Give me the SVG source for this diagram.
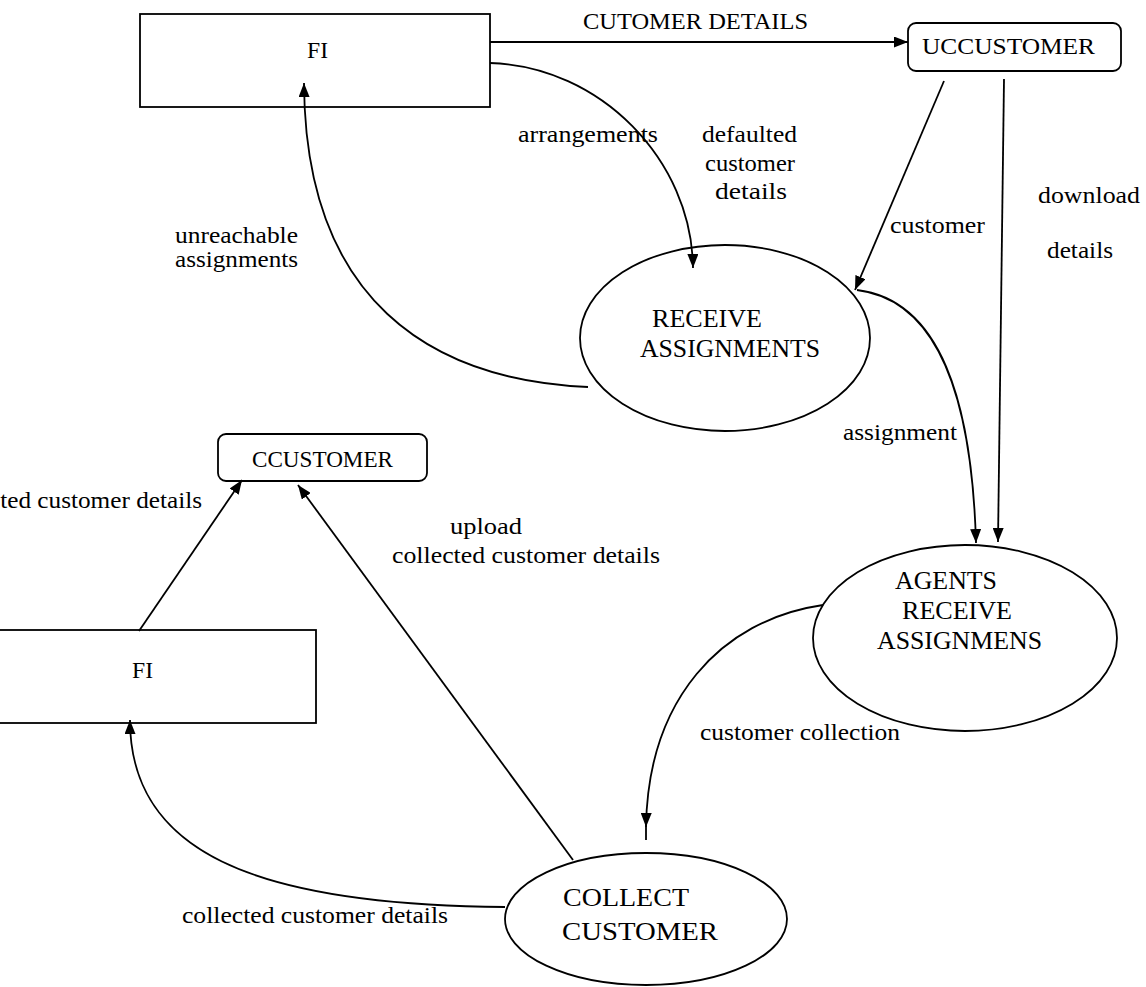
<svg xmlns="http://www.w3.org/2000/svg" width="1146" height="987" viewBox="0 0 1146 987">
  <style>
    .shape { fill: none; stroke: #000; stroke-width: 1.8; }
    .flow { fill: none; stroke: #000; stroke-width: 1.8; }
    .lbl { font-family: "Liberation Serif", "Times New Roman", serif; font-size: 24px; fill: #000; }
    .big { font-size: 26px; }
  </style>
  <defs>
    <marker id="arrow" viewBox="0 0 14 11" refX="14" refY="5.5" markerWidth="14" markerHeight="11" markerUnits="userSpaceOnUse" orient="auto">
      <path d="M0,0 L14,5.5 L0,11 z" fill="#000"/>
    </marker>
  </defs>
  <rect width="1146" height="987" fill="#fff"/>

  <!-- external entities -->
  <g id="fi-top">
    <rect class="shape" x="140" y="14" width="350" height="93"/>
    <text class="lbl" x="307" y="58" textLength="21" lengthAdjust="spacingAndGlyphs">FI</text>
  </g>
  <g id="uccustomer">
    <rect class="shape" x="908" y="23" width="213" height="48" rx="8"/>
    <text class="lbl" x="922" y="54" textLength="173" lengthAdjust="spacingAndGlyphs">UCCUSTOMER</text>
  </g>
  <g id="ccustomer">
    <rect class="shape" x="218" y="434" width="209" height="47" rx="8"/>
    <text class="lbl" x="252" y="467" textLength="141" lengthAdjust="spacingAndGlyphs">CCUSTOMER</text>
  </g>
  <g id="fi-bottom">
    <rect class="shape" x="-5" y="630" width="321" height="93"/>
    <text class="lbl" x="132" y="678" textLength="21" lengthAdjust="spacingAndGlyphs">FI</text>
  </g>

  <!-- processes -->
  <g id="receive-assignments">
    <ellipse class="shape" cx="725" cy="338" rx="145" ry="93"/>
    <text class="lbl big" x="652" y="327" textLength="110" lengthAdjust="spacingAndGlyphs">RECEIVE</text>
    <text class="lbl big" x="640" y="357" textLength="180" lengthAdjust="spacingAndGlyphs">ASSIGNMENTS</text>
  </g>
  <g id="agents-receive">
    <ellipse class="shape" cx="965" cy="638" rx="152" ry="93"/>
    <text class="lbl big" x="895" y="589" textLength="102" lengthAdjust="spacingAndGlyphs">AGENTS</text>
    <text class="lbl big" x="902" y="619" textLength="110" lengthAdjust="spacingAndGlyphs">RECEIVE</text>
    <text class="lbl big" x="877" y="649" textLength="165" lengthAdjust="spacingAndGlyphs">ASSIGNMENS</text>
  </g>
  <g id="collect-customer">
    <ellipse class="shape" cx="646" cy="919" rx="141" ry="66"/>
    <text class="lbl big" x="563" y="906" textLength="126" lengthAdjust="spacingAndGlyphs">COLLECT</text>
    <text class="lbl big" x="562" y="940" textLength="156" lengthAdjust="spacingAndGlyphs">CUSTOMER</text>
  </g>

  <!-- data flows -->
  <g id="connectors">
    <line class="flow" x1="490" y1="42" x2="908" y2="42" marker-end="url(#arrow)"/>
    <path class="flow" d="M490,63 C600,66 692,160 693,268" marker-end="url(#arrow)"/>
    <path class="flow" d="M588,387 C430,380 305,300 304,83" marker-end="url(#arrow)"/>
    <line class="flow" x1="944" y1="81" x2="855" y2="290" marker-end="url(#arrow)"/>
    <line class="flow" x1="1004" y1="79" x2="998" y2="542" marker-end="url(#arrow)"/>
    <path class="flow" d="M857,290 C940,300 972,400 976,543" marker-end="url(#arrow)"/>
    <path class="flow" d="M823,605 C720,620 648,700 646,827" marker-end="url(#arrow)"/>
    <line class="flow" x1="646" y1="815" x2="646" y2="840"/>
    <line class="flow" x1="139" y1="631" x2="242" y2="480" marker-end="url(#arrow)"/>
    <line class="flow" x1="573" y1="860" x2="298" y2="485" marker-end="url(#arrow)"/>
    <path class="flow" d="M505,907 C250,905 130,850 130,720" marker-end="url(#arrow)"/>
  </g>

  <!-- flow labels -->
  <g id="labels">
    <text class="lbl" x="583" y="29" textLength="225" lengthAdjust="spacingAndGlyphs">CUTOMER DETAILS</text>
    <text class="lbl" x="518" y="142" textLength="140" lengthAdjust="spacingAndGlyphs">arrangements</text>
    <text class="lbl" x="702" y="142" textLength="95" lengthAdjust="spacingAndGlyphs">defaulted</text>
    <text class="lbl" x="705" y="171" textLength="90" lengthAdjust="spacingAndGlyphs">customer</text>
    <text class="lbl" x="715" y="199" textLength="72" lengthAdjust="spacingAndGlyphs">details</text>
    <text class="lbl" x="175" y="243" textLength="123" lengthAdjust="spacingAndGlyphs">unreachable</text>
    <text class="lbl" x="175" y="267" textLength="123" lengthAdjust="spacingAndGlyphs">assignments</text>
    <text class="lbl" x="890" y="233" textLength="95" lengthAdjust="spacingAndGlyphs">customer</text>
    <text class="lbl" x="1038" y="203" textLength="102" lengthAdjust="spacingAndGlyphs">download</text>
    <text class="lbl" x="1047" y="258" textLength="66" lengthAdjust="spacingAndGlyphs">details</text>
    <text class="lbl" x="843" y="440" textLength="114" lengthAdjust="spacingAndGlyphs">assignment</text>
    <!-- this label runs past the left edge of the sheet -->
    <text class="lbl" x="-60" y="508" textLength="262" lengthAdjust="spacingAndGlyphs">collected customer details</text>
    <text class="lbl" x="450" y="534" textLength="72" lengthAdjust="spacingAndGlyphs">upload</text>
    <text class="lbl" x="392" y="563" textLength="268" lengthAdjust="spacingAndGlyphs">collected customer details</text>
    <text class="lbl" x="700" y="740" textLength="200" lengthAdjust="spacingAndGlyphs">customer collection</text>
    <text class="lbl" x="182" y="923" textLength="266" lengthAdjust="spacingAndGlyphs">collected customer details</text>
  </g>
</svg>
